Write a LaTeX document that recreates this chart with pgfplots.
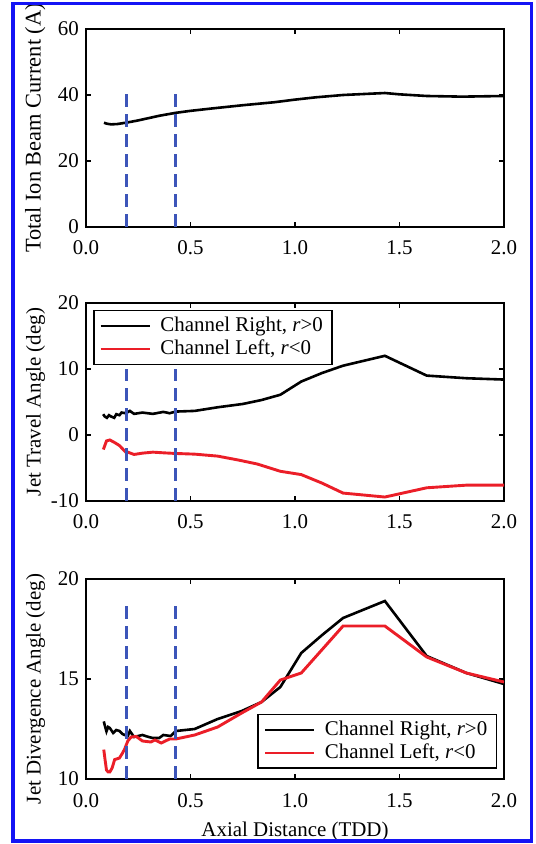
\documentclass[border=0pt]{standalone}
\usepackage{fontspec}
\setmainfont{Liberation Serif}
\usepackage{pgfplots}
\pgfplotsset{compat=1.18}
\definecolor{dashblue}{RGB}{60,85,185}
\definecolor{curvered}{RGB}{235,30,40}
\definecolor{frameblue}{RGB}{20,20,245}
\pgfplotsset{
  panel/.style={
    scale only axis, width=418bp,
    xmin=0, xmax=2,
    xtick={0,0.5,1,1.5,2},
    xticklabels={0.0,0.5,1.0,1.5,2.0},
    /pgf/number format/assume math mode=true,
    axis line style={line width=2.2bp},
    every tick/.style={black,line width=1.6bp},
    major tick length=5bp,
    tick align=inside,
    xticklabel style={anchor=base,yshift=-28bp},
    ylabel style={at={(axis description cs:-0.1084,0.5)}, anchor=base},
    legend image code/.code={\draw[#1, line width=1.7bp] (3bp,0bp) -- (52bp,0bp);},
    legend cell align=left,
  },
  lgd/.style={draw=black, line width=1.5bp, fill=white, inner xsep=6bp, inner ysep=4bp, row sep=0bp, column sep=7bp, nodes={inner xsep=3bp, inner ysep=2.5bp}},
  blk/.style={black, line width=2.6bp},
  rd/.style={curvered, line width=2.9bp},
  dsh/.style={dashblue, line width=3bp, dash pattern=on 13bp off 7bp, forget plot},
}
\begin{document}
\fontsize{21}{25}\selectfont
\begin{tikzpicture}
\useasboundingbox (0,0) rectangle (536bp,844bp);

% Panel 1
\begin{axis}[panel, at={(86bp,617bp)}, anchor=south west, height=198bp,
  ymin=0, ymax=60, ytick={0,20,40,60}, ylabel={Total Ion Beam Current (A)},
  ylabel style={font=\fontsize{22.5}{26}\selectfont}]
\addplot[blk] coordinates {(0.086,31.6) (0.10,31.3) (0.12,31.1) (0.15,31.2) (0.2,31.7) (0.25,32.3) (0.3,33.0) (0.35,33.7) (0.43,34.6) (0.5,35.2) (0.6,35.9) (0.75,36.9) (0.9,37.8) (1.0,38.6) (1.1,39.3) (1.23,40.0) (1.33,40.3) (1.43,40.6) (1.5,40.2) (1.63,39.7) (1.8,39.5) (2.0,39.7)};
\addplot[dsh] coordinates {(0.196,0) (0.196,40.5)};
\addplot[dsh] coordinates {(0.43,0) (0.43,40.5)};
\end{axis}

% Panel 2
\begin{axis}[panel, at={(86bp,343bp)}, anchor=south west, height=198bp,
  ymin=-10, ymax=20, ytick={-10,0,10,20}, ylabel={Jet Travel Angle (deg)},
  legend style={lgd, at={(axis description cs:0,1)}, anchor=north west, xshift=7bp, yshift=-7bp}]
\addplot[blk] coordinates {(0.082,3.15) (0.09,2.8) (0.10,2.6) (0.11,3.0) (0.12,2.8) (0.135,2.6) (0.145,3.15) (0.16,3.0) (0.17,3.4) (0.19,3.3) (0.21,3.65) (0.23,3.2) (0.27,3.4) (0.32,3.2) (0.37,3.5) (0.40,3.3) (0.43,3.55) (0.52,3.65) (0.63,4.2) (0.75,4.7) (0.84,5.3) (0.93,6.1) (1.03,8.1) (1.13,9.4) (1.23,10.5) (1.43,12.0) (1.63,9.0) (1.82,8.6) (2.0,8.4)};
\addlegendentry{Channel Right, \textit{r}>0}
\addplot[rd] coordinates {(0.083,-2.2) (0.09,-1.6) (0.098,-0.9) (0.114,-0.75) (0.14,-1.2) (0.16,-1.6) (0.19,-2.6) (0.20,-2.6) (0.23,-2.95) (0.27,-2.75) (0.32,-2.6) (0.37,-2.7) (0.43,-2.8) (0.52,-2.9) (0.63,-3.2) (0.73,-3.8) (0.82,-4.4) (0.93,-5.5) (1.03,-6.0) (1.13,-7.3) (1.23,-8.8) (1.43,-9.4) (1.53,-8.7) (1.63,-8.0) (1.82,-7.6) (2.0,-7.6)};
\addlegendentry{Channel Left, \textit{r}<0}
\addplot[dsh] coordinates {(0.196,-10) (0.196,10)};
\addplot[dsh] coordinates {(0.43,-10) (0.43,10)};
\end{axis}

% Panel 3
\begin{axis}[panel, at={(86bp,65bp)}, anchor=south west, height=200bp,
  ymin=10, ymax=20, ytick={10,15,20},
  ylabel={Jet Divergence Angle (deg)},
  ylabel style={at={(axis description cs:-0.1084,0.45)}},
  xlabel={Axial Distance (TDD)},
  xlabel style={at={(axis description cs:0.5,0)}, anchor=base, yshift=-57.7bp},
  legend style={lgd, at={(axis description cs:1,0)}, anchor=south east, xshift=-7bp, yshift=10bp}]
\addplot[blk] coordinates {(0.085,12.88) (0.092,12.6) (0.098,12.38) (0.106,12.6) (0.114,12.55) (0.13,12.3) (0.145,12.45) (0.16,12.4) (0.175,12.25) (0.185,12.2) (0.2,12.15) (0.21,12.4) (0.23,12.1) (0.27,12.2) (0.3,12.1) (0.32,12.05) (0.35,12.05) (0.37,12.2) (0.405,12.15) (0.43,12.4) (0.52,12.5) (0.63,13.0) (0.745,13.4) (0.84,13.85) (0.93,14.6) (1.03,16.3) (1.13,17.2) (1.23,18.05) (1.43,18.9) (1.63,16.15) (1.82,15.3) (2.0,14.75)};
\addlegendentry{Channel Right, \textit{r}>0}
\addplot[rd] coordinates {(0.085,11.47) (0.092,10.9) (0.098,10.45) (0.106,10.35) (0.114,10.35) (0.125,10.55) (0.137,10.97) (0.16,11.05) (0.175,11.3) (0.185,11.5) (0.2,11.9) (0.216,12.1) (0.24,12.13) (0.27,11.9) (0.31,11.85) (0.33,11.95) (0.36,11.8) (0.40,12.0) (0.43,12.0) (0.52,12.2) (0.63,12.6) (0.745,13.3) (0.84,13.85) (0.93,14.95) (1.03,15.3) (1.23,17.65) (1.43,17.65) (1.63,16.1) (1.82,15.3) (2.0,14.85)};
\addlegendentry{Channel Left, \textit{r}<0}
\addplot[dsh] coordinates {(0.196,10) (0.196,18.9)};
\addplot[dsh] coordinates {(0.43,10) (0.43,18.9)};
\end{axis}

\draw[frameblue, line width=3.5bp] (13bp,3bp) rectangle (531.5bp,840.5bp);
\end{tikzpicture}
\end{document}
